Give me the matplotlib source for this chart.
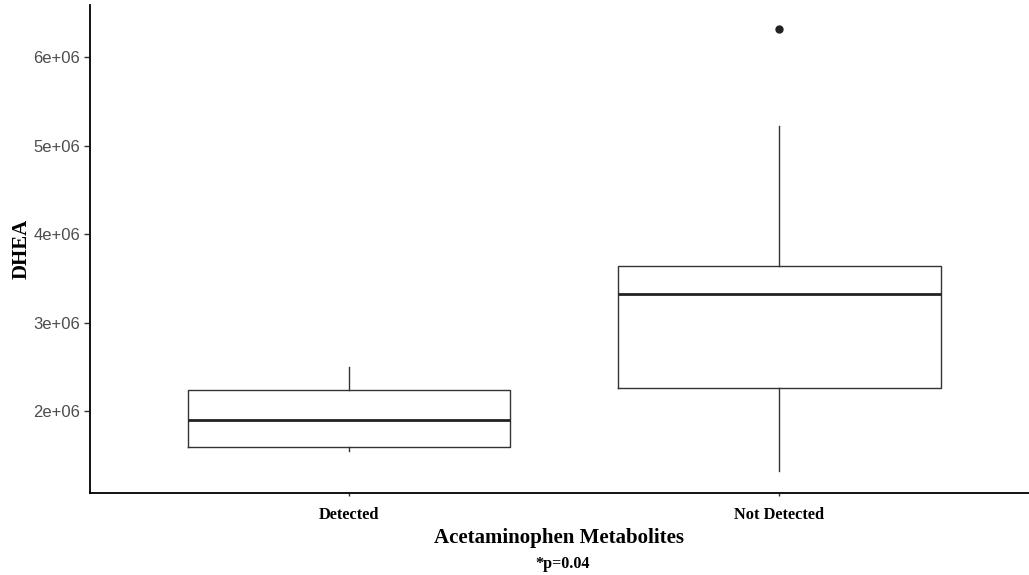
import matplotlib
matplotlib.use("Agg")
import matplotlib.pyplot as plt
from matplotlib.ticker import FuncFormatter

groups = ["Detected", "Not Detected"]
whisker_low = [1.55e6, 1.32e6]
q1 = [1.59e6, 2.26e6]
median = [1.90e6, 3.32e6]
q3 = [2.24e6, 3.64e6]
whisker_high = [2.50e6, 5.22e6]
outliers = [[], [6.32e6]]

stats = []
for i, name in enumerate(groups):
    stats.append({
        "label": name,
        "whislo": whisker_low[i],
        "q1": q1[i],
        "med": median[i],
        "q3": q3[i],
        "whishi": whisker_high[i],
        "fliers": outliers[i],
    })

fig = plt.figure(figsize=(10.29, 5.75), dpi=100)
ax = fig.add_axes([90 / 1029, 82 / 575, 939 / 1029, 488 / 575])

ax.bxp(stats, positions=[1, 2], widths=0.75, showcaps=False,
       boxprops=dict(color="#333333", linewidth=1.0),
       whiskerprops=dict(color="#333333", linewidth=1.0),
       medianprops=dict(color="#222222", linewidth=2.0),
       flierprops=dict(marker="o", markerfacecolor="#222222",
                       markeredgecolor="#222222", markersize=5))

ax.set_xlim(0.398, 2.58)
ax.set_ylim(1.073e6, 6.59e6)
ax.set_yticks([2e6, 3e6, 4e6, 5e6, 6e6])
ax.yaxis.set_major_formatter(FuncFormatter(lambda v, p: "%de+06" % round(v / 1e6)))

for side in ["top", "right"]:
    ax.spines[side].set_visible(False)
for side in ["left", "bottom"]:
    ax.spines[side].set_linewidth(1.3)
    ax.spines[side].set_color("black")

ax.tick_params(axis="y", length=4, width=1, color="#333333",
               labelsize=12, labelcolor="#4d4d4d", pad=3)
ax.tick_params(axis="x", length=2, width=1, color="#333333", pad=8)
for lab in ax.get_yticklabels():
    lab.set_fontfamily("Liberation Sans")
for lab in ax.get_xticklabels():
    lab.set_fontfamily("Liberation Serif")
    lab.set_fontweight("bold")
    lab.set_fontsize(11.8)

ax.set_ylabel("DHEA", family="Liberation Serif", fontweight="bold",
              fontsize=15, labelpad=1)
ax.set_xlabel("Acetaminophen Metabolites", family="Liberation Serif",
              fontweight="bold", fontsize=15, labelpad=4)
fig.text(563 / 1029, 1 - 564 / 575, "*p=0.04",
         family="Liberation Serif", fontweight="bold", fontsize=11.6,
         ha="center", va="center")

fig.savefig("out.png", dpi=100)
